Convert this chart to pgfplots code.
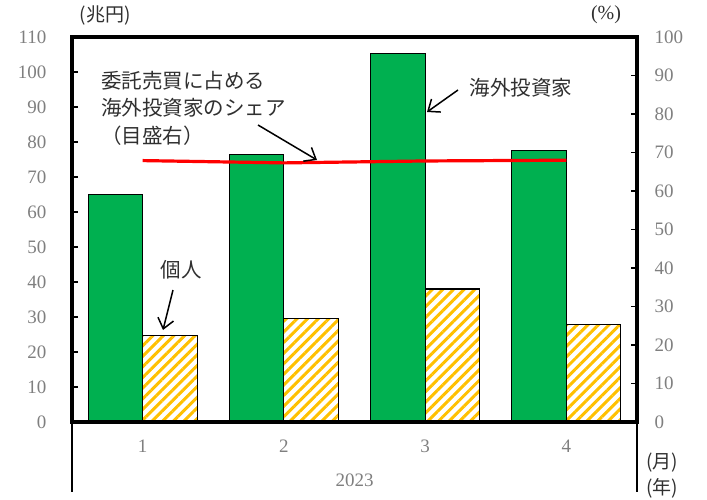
\documentclass[border=0pt]{standalone}
\usepackage{pgfplots}
\pgfplotsset{compat=1.18}
\usepackage{fontspec}
\setmainfont{Liberation Serif}
\newfontfamily\jp{Noto Sans CJK JP}
\usetikzlibrary{patterns,patterns.meta,arrows.meta}
\definecolor{bargreen}{HTML}{00B050}
\definecolor{hatch}{HTML}{FFC000}
\definecolor{lbl}{HTML}{7F7F7F}
\definecolor{txt}{HTML}{303030}
\begin{document}
\begin{tikzpicture}[x=1pt,y=1pt]
\useasboundingbox (0,0) rectangle (707,499);
\pgfplotsset{
  common/.style={
    at={(72pt,77pt)}, anchor=south west,
    scale only axis, width=565pt, height=385pt,
    xmin=0.5, xmax=4.5,
    tick align=inside,
    major tick length=6pt,
    y tick style={black, line width=1.5pt},
    axis line style={line width=3.5pt},
    tick label style={font=\fontsize{19}{19}\selectfont, text=lbl},
    /pgf/number format/assume math mode=true,
    clip=false,
  }
}
\begin{axis}[common,
  axis on top,
  ymin=0, ymax=110,
  ybar=0pt, bar width=54.5pt,
  xtick={1,2,3,4}, xticklabels={1,2,3,4},
  x tick style={draw=none},
  xticklabel style={yshift=-8pt},
  ytick={0,10,...,110},
  ytick pos=left,
  yticklabel style={xshift=-22pt},
]
\addplot[fill=bargreen, draw=black, line width=1.2pt]
  coordinates {(1,65.0) (2,76.5) (3,105.2) (4,77.5)};
\addplot[draw=black, line width=1.2pt,
  pattern={Lines[angle=45,distance=7.5pt,line width=3pt]}, pattern color=hatch]
  coordinates {(1,24.8) (2,29.6) (3,38.0) (4,27.9)};
\end{axis}
\begin{axis}[common,
  ymin=0, ymax=100,
  axis x line=none,
  axis y line*=right,
  y axis line style={-},
  ytick={0,10,...,100},
  yticklabel style={xshift=14pt},
]
\addplot[red, line width=3.2pt, mark=none]
  coordinates {(1,67.9) (2,67.3) (3,67.8) (4,68.0)};
\end{axis}
% separators below axis
\draw[line width=1.5pt] (72,77) -- (72,7);
\draw[line width=1.5pt] (637,77) -- (637,7);
\node[font=\fontsize{19}{19}\selectfont, text=lbl] at (354.5,19) {2023};
% unit labels
\node[font=\jp\fontsize{19}{19}\selectfont, text=txt] at (105,484) {(兆円)};
\node[font=\fontsize{20}{20}\selectfont, text=txt] at (606,484) {(\%)};
\node[font=\jp\fontsize{19}{19}\selectfont, text=txt] at (662,36) {(月)};
\node[font=\jp\fontsize{19}{19}\selectfont, text=txt] at (662,11) {(年)};
% annotations
\node[font=\jp\fontsize{20.5}{20.5}\selectfont, text=txt, anchor=west, inner sep=0pt] at (101,418) {委託売買に占める};
\node[font=\jp\fontsize{20.5}{20.5}\selectfont, text=txt, anchor=west, inner sep=0pt] at (101,391) {海外投資家のシェア};
\node[font=\jp\fontsize{20.5}{20.5}\selectfont, text=txt, anchor=west, inner sep=0pt] at (101,363) {（目盛右）};
\node[font=\jp\fontsize{20.5}{20.5}\selectfont, text=txt] at (521,411) {海外投資家};
\node[font=\jp\fontsize{20.5}{20.5}\selectfont, text=txt] at (181,229) {個人};
\draw[line width=1.5pt, -{Straight Barb[length=10pt,width=16pt]}] (258,374) -- (317,339);
\draw[line width=1.5pt, -{Straight Barb[length=10pt,width=16pt]}] (458,409) -- (427,387);
\draw[line width=1.5pt, -{Straight Barb[length=10pt,width=16pt]}] (173,209) -- (163,169);
\end{tikzpicture}
\end{document}
